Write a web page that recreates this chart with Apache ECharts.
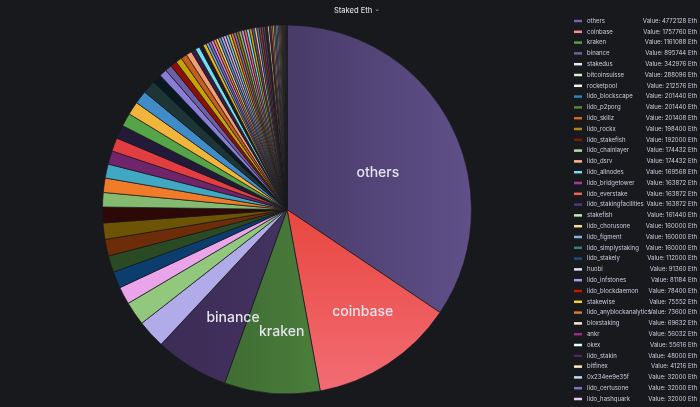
<!DOCTYPE html>
<html>
<head>
<meta charset="utf-8">
<script src="https://cdn.jsdelivr.net/npm/echarts@6/dist/echarts.min.js"></script>
<style>
html,body{margin:0;padding:0;background:#18191d;}
#c{width:700px;height:407px;}
</style>
</head>
<body>
<div id="c"></div>
<script>
// ---- data ----
const categories = [
  "others","coinbase","kraken","binance","stakedus","bitcoinsuisse","rocketpool",
  "lido_blockscape","lido_p2porg","lido_skillz","lido_rockx","lido_stakefish",
  "lido_chainlayer","lido_dsrv","lido_allnodes","lido_bridgetower","lido_everstake",
  "lido_stakingfacilities","stakefish","lido_chorusone","lido_figment","lido_simplystaking",
  "lido_stakely","huobi","lido_infstones","lido_blockdaemon","stakewise",
  "lido_anyblockanalytics","bloxstaking","ankr","okex","lido_stakin","bitfinex",
  "0x234ee9e35f","lido_certusone","lido_hashquark",
  "lido_attestant","lido_kiln","lido_consensys","lido_sigmaprime","lido_rocklogic",
  "lido_nethermind","lido_prysmatic","poloniex","bitstamp","kiln","stakehound",
  "0x5fa5b62c8a","0x8103151e2d","gemini","bitpanda","celsius","nexo","ledger",
  "0xe0b4a7e6f2","cryptocom","blockfi","ethpool","abyss","0x9a1b3fd5c7",
  "0x3c4d2f9e81","0x71e2b5d0a4","0xa0cc8e1f37","0x4be0e93df1","0xd2f9c18a05",
  "0x62b8a6e2c9","0x1f3c7ad8e0","0xb7e4f20c61","0x0c9d5e13aa","0x8e27f41b93",
  "0x55a1c9d7e2","0xf1d4e6b208","0x2ab9e7f0c3","0x93c01d8e5f","0x7d6e2a91b4",
  "0xc4f8b3e720","0x18e5d0a9f6","0xe6b2c7f194"
];
const values = [
  4772128,1757760,1161088,895744,342976,288096,212576,
  201440,201440,201408,198400,192000,
  174432,174432,169568,163872,163872,
  163872,161440,160000,160000,160000,
  112000,91360,81184,78400,75552,
  73600,69632,56032,55616,48000,41216,
  32000,32000,32000,
  32000,32000,32000,32000,32000,
  32000,32000,32000,32000,32000,32000,
  32000,32000,32000,32000,30400,28800,28000,
  27200,25600,25600,24000,22400,20800,
  19200,19200,17600,16000,16000,
  14400,12800,12800,11200,9600,
  9600,8000,6400,6400,4800,
  3200,3200,1600
];
const unit = "Eth";
const titleText = "Staked Eth";

// ---- styles ----
const sliceColors = [
  "#564878","#ec5a5a","#467539","#3d2d58","#b1abea","#92c87e","#eaa5ea",
  "#0b3e6f","#2a4a23","#6e2d09","#6d5306","#2c0806",
  "#85ba71","#f07b29","#41a8c4","#6f246c","#e23d40",
  "#221a38","#56a449","#f0b53a","#3f8cc8","#1d3537",
  "#081a1f","#8a7dd5","#6c5fa6","#8c1004","#c9a206",
  "#c45f1b","#f29e72","#3b1c41","#6ee0f0","#1d1a2d","#e9b019",
  "#6da6da","#7a6cc4","#d887d4"
];
const legendIconColors = [
  "#7466a4","#f28f95","#5f9a4a","#6e6396","#e8e8f4","#d6efcf","#f0f0f4",
  "#2f7fc4","#4f8a40","#d06a20","#a88a1c","#7a1a0e",
  "#b7dbab","#f9ba8f","#70dbed","#a03a94","#ea6460",
  "#4c3a78","#c4eab8","#f6dc9a","#82b5d8","#3f7a80",
  "#1f4c7c","#e4e0f6","#a99ce4","#bf1b00","#f2d23a",
  "#d97a3a","#fce6d4","#962d82","#e6fbff","#4a2a55","#fcefc4",
  "#bae0f8","#7d70c8","#f2c4ee"
];
const tailPalette = ["#ef843c","#f2c96d","#5195ce","#aea2e0","#e5a8e2","#65c5db","#eab839",
  "#e0752d","#806eb7","#967302","#7eb26d","#d683ce","#ea6460","#70dbed","#cca300",
  "#614d93","#f9ba8f","#447ebc","#99440a","#962d82","#2f575e","#58140c","#b7dbab","#6d1f62"];
function colorAt(i){ return i < sliceColors.length ? sliceColors[i] : tailPalette[(i - sliceColors.length) % tailPalette.length]; }
function legendColorAt(i){ return i < legendIconColors.length ? legendIconColors[i] : tailPalette[(i - legendIconColors.length) % tailPalette.length]; }

const gradients = {
  0: new echarts.graphic.LinearGradient(0,0,1,0,[{offset:0,color:'#483b68'},{offset:1,color:'#5f5089'}]),
  1: new echarts.graphic.LinearGradient(0,0,0,1,[{offset:0,color:'#e8473f'},{offset:1,color:'#f26c74'}]),
  2: new echarts.graphic.LinearGradient(0,0,1,0,[{offset:0,color:'#3f6c32'},{offset:1,color:'#4b7e3d'}]),
  3: new echarts.graphic.LinearGradient(0,0,1,0,[{offset:0,color:'#3b2b55'},{offset:1,color:'#43335f'}])
};
// label placement tweaks relative to the default inside position: radial scale and rotation (deg, clockwise)
const labelAdjust = {
  0: { f: 1.03, rot: 5.9 },
  1: { f: 1.34, rot: -3.2 },
  2: { f: 1.29, rot: -2.2 },
  3: { f: 1.27, rot: -4.9 }
};
const CX = 287, CY = 209.5, R = 184.5;

const valueOf = {};
categories.forEach((c,i)=>{ valueOf[c] = values[i]; });

const pieData = categories.map((name,i)=>({
  name: name,
  value: values[i],
  itemStyle: { color: gradients[i] || colorAt(i) },
  label: { show: i < 4 }
}));

const legendData = categories.map((name,i)=>({
  name: name,
  itemStyle: { color: legendColorAt(i), borderWidth: 0 }
}));

const chart = echarts.init(document.getElementById('c'), null, {renderer:'canvas'});
chart.setOption({
  backgroundColor: '#18191d',
  animation: false,
  title: {
    text: titleText + ' {c|⌄}',
    left: 352,
    textAlign: 'center',
    top: 1,
    textStyle: {
      color: '#d8d9da', fontSize: 7.5, fontWeight: 500, fontFamily: 'Inter, Roboto, sans-serif',
      rich: { c: { fontSize: 7, color: '#9fa1a8', fontFamily: 'DejaVu Sans', padding:[0,0,2,0] } }
    }
  },
  legend: {
    orient: 'vertical',
    left: 574,
    top: 17,
    height: 3000,
    padding: 0,
    itemGap: 2.8,
    itemWidth: 8,
    itemHeight: 2.5,
    icon: 'rect',
    selectedMode: false,
    itemStyle: { borderWidth: 0 },
    textStyle: {
      color: '#ccccdc', fontSize: 6, lineHeight: 8, fontFamily: 'Inter, Roboto, sans-serif',
      rich: {
        n: { width: 54, fontSize: 6, color: '#ccccdc', fontFamily: 'Inter, Roboto, sans-serif' },
        v: { width: 56, align: 'right', fontSize: 6, color: '#ccccdc', fontFamily: 'Inter, Roboto, sans-serif' }
      }
    },
    formatter: function(name){ return '{n|' + name + '}{v|Value: ' + valueOf[name] + ' ' + unit + '}'; },
    data: legendData
  },
  series: [{
    type: 'pie',
    center: [CX, CY],
    radius: R,
    startAngle: 90,
    clockwise: true,
    avoidLabelOverlap: false,
    emphasis: { disabled: true },
    itemStyle: { borderColor: '#18191d', borderWidth: 0.7 },
    label: {
      show: false,
      position: 'inside',
      color: '#e4e4ec',
      fontSize: 14,
      fontWeight: 500,
      fontFamily: 'Inter, Roboto, sans-serif',
      formatter: '{b}'
    },
    labelLine: { show: false },
    labelLayout: function(p){
      const adj = labelAdjust[p.dataIndex];
      if (!adj || !p.labelRect) return {};
      const r = p.labelRect;
      const lx = r.x + r.width/2, ly = r.y + r.height/2;
      const vx = lx - CX, vy = ly - CY;
      const a = adj.rot * Math.PI / 180;
      const rx = (vx * Math.cos(a) - vy * Math.sin(a)) * adj.f;
      const ry = (vx * Math.sin(a) + vy * Math.cos(a)) * adj.f;
      return { dx: CX + rx - lx, dy: CY + ry - ly };
    },
    data: pieData
  }]
});
</script>
</body>
</html>
